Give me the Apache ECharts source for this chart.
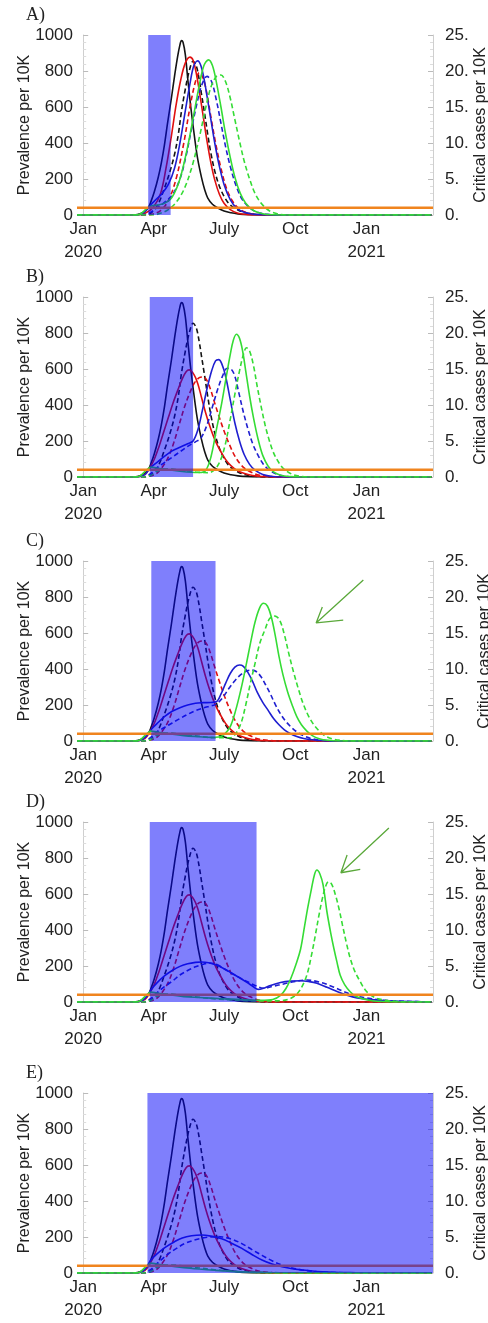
<!DOCTYPE html>
<html>
<head>
<meta charset="utf-8">
<script src="https://cdn.jsdelivr.net/npm/echarts@6/dist/echarts.min.js"></script>
<style>
html, body { margin: 0; padding: 0; background: #fff; }
#chart { width: 488px; height: 1323px; }
</style>
</head>
<body>
<div id="chart"></div>
<script>
// x values are days since 1 Jan 2020; solid = prevalence (left axis), dashed = critical cases (right axis)
var monthTicks = [0, 91, 182, 274, 366];
var monthLabels = ['Jan', 'Apr', 'July', 'Oct', 'Jan'];
var yearLabels = ['2020', '', '', '', '2021'];
var panelNames = ['A)', 'B)', 'C)', 'D)', 'E)'];
var lockStart = [84, 86, 88, 86, 83];
var lockEnd = [113, 142, 171, 224, 452];
var icuCapacity = [[-8, 1], [452, 1]];

// shared curves
var blackSolid = [[-8,0],[60,0],[70,3],[78,15],[84,40],[88,80],[92,130],[97,210],[101,290],[105,390],[109,510],[114,650],[118,770],[122,880],[125,945],[127,969],[129,960],[132,890],[135,761],[139,600],[144,428],[148,310],[153,206],[157,140],[161,94],[167,60],[174,39],[182,22],[191,12],[200,6],[212,2],[225,0],[450,0]];
var blackDashed = [[-8,0],[75,0],[85,0.12],[92,0.75],[98,1.75],[105,3.75],[112,6.0],[118,8.4],[123,11.25],[127,14.4],[132,17.5],[137,20.0],[142,21.35],[146,20.75],[150,18.75],[153,16.7],[157,14.0],[161,11.15],[165,8.6],[170,6.1],[176,4.0],[183,2.4],[190,1.4],[200,0.7],[210,0.3],[222,0.1],[235,0],[450,0]];
var redSolid = [[-8,0],[70,0],[80,15],[86,50],[92,100],[98,170],[104,250],[110,330],[116,410],[122,480],[128,545],[133,585],[137,595],[143,570],[148,520],[153,440],[158,360],[163,290],[168,230],[173,180],[180,125],[187,80],[195,48],[203,28],[213,14],[225,5],[240,1],[255,0],[450,0]];
var redDashed = [[-8,0],[78,0],[86,0.12],[95,0.5],[103,1.5],[110,2.75],[117,4.75],[124,7.25],[131,9.75],[138,11.75],[144,13.1],[150,13.8],[155,13.9],[160,13.4],[165,12.0],[170,10.25],[176,8.25],[183,6.1],[190,4.25],[196,2.9],[203,1.8],[210,1.1],[218,0.62],[228,0.25],[240,0.08],[255,0],[450,0]];

// panel A
var redSolidA = [[-8,0],[70,0],[80,10],[90,40],[100,120],[107,260],[114,440],[120,610],[126,750],[132,845],[138,877],[142,860],[146,790],[150,690],[155,550],[160,410],[165,290],[170,195],[176,115],[182,65],[190,30],[200,10],[212,2],[225,0],[450,0]];
var redDashedA = [[-8,0],[80,0],[90,0.12],[100,0.62],[110,2.0],[120,5.0],[130,10.0],[138,15.0],[145,18.5],[150,19.75],[155,19.0],[160,16.75],[166,13.0],[172,9.5],[178,6.5],[185,3.75],[192,2.1],[200,1.0],[210,0.38],[225,0.08],[240,0],[450,0]];
var blueSolidA = [[-8,0],[70,0],[80,20],[88,60],[95,90],[102,120],[110,170],[118,260],[125,400],[132,580],[138,730],[143,830],[148,856],[152,830],[156,760],[160,660],[165,530],[170,400],[176,270],[182,170],[190,85],[198,40],[208,15],[220,4],[235,0],[450,0]];
var blueDashedA = [[-8,0],[75,0],[85,0.25],[95,1.0],[105,1.75],[115,2.75],[125,5.0],[133,8.25],[140,12.0],[147,15.5],[153,18.0],[160,19.25],[166,18.5],[172,16.0],[178,12.75],[184,9.5],[190,6.75],[197,4.25],[205,2.25],[215,1.0],[225,0.38],[240,0.08],[255,0],[450,0]];
var greenSolidA = [[-8,0],[70,0],[76,12],[82,35],[88,50],[95,55],[105,65],[115,100],[125,200],[135,380],[143,560],[150,720],[156,830],[162,862],[167,830],[172,740],[178,600],[184,450],[190,320],[196,210],[203,120],[210,65],[220,25],[232,7],[245,1],[260,0],[450,0]];
var greenDashedA = [[-8,0],[90,0],[100,0.25],[110,0.75],[120,1.75],[130,3.5],[140,6.5],[150,10.75],[158,14.75],[165,17.75],[172,19.25],[178,19.45],[184,18.5],[190,16.25],[196,13.25],[202,10.25],[208,7.5],[215,5.0],[222,3.0],[230,1.62],[240,0.62],[250,0.2],[262,0],[450,0]];

// panel B
var blueSolidB = [[-8,0],[70,0],[80,15],[86,48],[95,80],[105,115],[115,145],[125,165],[135,185],[142,200],[148,260],[154,370],[160,490],[166,590],[171,645],[175,652],[179,630],[184,560],[190,430],[196,300],[202,200],[208,125],[215,70],[222,38],[232,14],[245,3],[260,0],[450,0]];
var blueDashedB = [[-8,0],[78,0],[86,0.38],[95,1.25],[105,2.0],[115,2.75],[125,3.5],[135,4.25],[145,4.88],[152,5.38],[160,7.25],[167,9.75],[174,12.25],[180,14.0],[186,15.1],[191,15.0],[196,14.0],[201,11.75],[207,9.0],[213,6.62],[219,4.62],[226,3.0],[233,1.75],[240,1.0],[250,0.38],[262,0.1],[275,0],[450,0]];
var greenSolidB = [[-8,0],[70,0],[76,15],[82,40],[88,55],[95,50],[110,40],[125,32],[140,26],[150,25],[158,35],[165,110],[172,260],[179,410],[185,560],[190,680],[194,760],[198,793],[202,770],[206,700],[210,590],[215,450],[220,330],[226,210],[232,120],[239,60],[246,28],[255,10],[268,2],[280,0],[450,0]];
var greenDashedB = [[-8,0],[80,0],[88,0.25],[95,0.75],[105,1.12],[115,1.1],[130,0.9],[145,0.7],[160,0.6],[168,0.85],[176,2.0],[183,4.25],[190,8.0],[196,11.5],[202,14.75],[207,17.0],[211,17.95],[215,17.5],[220,15.5],[225,12.5],[230,9.75],[235,7.25],[240,5.25],[245,3.62],[250,2.5],[256,1.5],[262,0.88],[270,0.38],[280,0.1],[292,0],[450,0]];

// panel C
var blueSolidC = [[-8,0],[70,0],[80,20],[88,65],[95,95],[105,135],[115,165],[125,185],[135,200],[145,210],[155,213],[165,214],[172,218],[178,260],[184,320],[190,375],[196,410],[202,422],[207,415],[213,380],[219,330],[225,270],[232,215],[239,170],[246,125],[253,90],[260,62],[268,40],[276,25],[285,14],[296,7],[310,2],[325,0],[450,0]];
var blueDashedC = [[-8,0],[78,0],[86,0.38],[95,1.25],[105,1.88],[115,2.5],[125,3.12],[135,3.7],[145,4.2],[155,4.58],[165,4.88],[172,5.12],[180,6.0],[188,7.25],[196,8.38],[204,9.25],[212,9.75],[218,9.85],[224,9.62],[230,8.88],[236,7.75],[242,6.5],[248,5.12],[255,3.75],[262,2.7],[270,1.8],[278,1.12],[287,0.62],[296,0.3],[306,0.12],[320,0],[450,0]];
var greenSolidC = [[-8,0],[70,0],[76,15],[82,40],[88,55],[95,50],[110,40],[130,30],[150,24],[165,20],[175,22],[182,35],[190,80],[197,170],[204,290],[210,410],[216,540],[222,660],[228,740],[233,765],[238,750],[243,690],[248,590],[253,470],[258,370],[264,275],[270,200],[276,135],[282,90],[289,55],[296,30],[305,13],[316,4],[330,0],[450,0]];
var greenDashedC = [[-8,0],[80,0],[88,0.25],[95,0.75],[105,1.12],[115,1.1],[130,0.9],[150,0.65],[170,0.45],[190,0.45],[197,1.0],[204,2.5],[210,5.0],[216,8.0],[222,10.75],[228,13.5],[235,15.5],[241,17.0],[248,17.35],[254,16.75],[260,14.75],[266,12.0],[272,9.5],[278,7.25],[284,5.25],[291,3.5],[298,2.25],[305,1.38],[312,0.75],[322,0.3],[335,0.08],[350,0],[450,0]];
var arrowC = [[362,894],[301,656],[309,744],[301,656],[336,672]];

// panel D
var blueSolidD = [[-8,0],[70,0],[80,20],[88,70],[95,105],[105,145],[115,175],[125,198],[135,212],[145,220],[153,222],[162,218],[172,205],[182,185],[192,160],[202,135],[212,108],[220,85],[226,70],[232,75],[242,92],[255,108],[268,116],[281,118],[292,113],[302,104],[315,82],[328,58],[341,37],[354,22],[370,13],[389,8],[410,4],[430,2],[450,0]];
var blueDashedD = [[-8,0],[78,0],[86,0.38],[95,1.25],[105,2.12],[115,2.88],[125,3.75],[135,4.38],[145,4.88],[155,5.25],[163,5.42],[172,5.25],[182,4.62],[192,4.0],[202,3.38],[213,2.78],[222,2.3],[233,1.9],[246,2.2],[259,2.5],[272,2.82],[289,3.05],[300,2.9],[311,2.6],[324,2.05],[337,1.45],[350,0.9],[367,0.55],[382,0.3],[397,0.18],[420,0.08],[450,0]];
var greenSolidD = [[-8,0],[70,0],[76,15],[82,40],[88,55],[95,50],[110,40],[130,30],[150,25],[180,18],[210,12],[230,10],[245,14],[255,37],[262,75],[268,128],[275,210],[281,296],[286,420],[290,520],[295,630],[299,710],[302,733],[306,710],[310,650],[315,500],[320,380],[324,296],[328,220],[332,150],[338,95],[345,57],[352,32],[363,16],[375,6],[390,2],[405,0],[450,0]];
var greenDashedD = [[-8,0],[80,0],[88,0.25],[95,0.75],[105,1.12],[115,1.1],[130,0.9],[150,0.65],[175,0.4],[200,0.25],[230,0.15],[250,0.15],[265,0.38],[275,1.0],[282,2.0],[289,3.75],[295,6.5],[300,9.3],[305,12.25],[309,14.35],[313,16.0],[317,16.7],[321,16.38],[326,14.85],[331,12.75],[335,10.7],[340,8.25],[345,6.08],[351,4.25],[358,2.82],[364,1.75],[371,0.98],[380,0.5],[389,0.28],[400,0.12],[415,0],[450,0]];
var arrowD = [[395,967],[333,718],[341,817],[333,718],[358,737]];

// panel E
var blueSolidE = [[-8,0],[70,0],[80,20],[87,70],[95,105],[105,140],[118,174],[128,195],[140,207],[153,211],[165,205],[179,190],[192,165],[205,137],[218,103],[231,72],[244,50],[257,35],[270,24],[283,17],[296,11],[309,7],[325,4],[345,2],[370,0],[450,0]];
var blueDashedE = [[-8,0],[78,0],[86,0.38],[95,1.25],[108,2.5],[120,3.38],[131,4.08],[145,4.62],[158,4.92],[170,5.05],[180,5.0],[192,4.7],[205,4.08],[218,3.25],[231,2.45],[244,1.7],[257,1.1],[270,0.7],[283,0.42],[296,0.25],[310,0.12],[330,0.05],[350,0],[450,0]];
var greenSolidE = [[-8,0],[70,0],[76,15],[82,40],[88,55],[95,50],[110,40],[130,30],[150,22],[170,15],[190,9],[210,5],[235,2],[260,0],[450,0]];
var greenDashedE = [[-8,0],[80,0],[88,0.25],[95,0.75],[105,1.12],[115,1.12],[130,0.95],[150,0.7],[170,0.45],[190,0.28],[210,0.15],[235,0.08],[260,0.02],[280,0],[450,0]];

var panels = [
    {red: redSolidA, redD: redDashedA, blue: blueSolidA, blueD: blueDashedA, green: greenSolidA, greenD: greenDashedA, arrow: null},
    {red: redSolid, redD: redDashed, blue: blueSolidB, blueD: blueDashedB, green: greenSolidB, greenD: greenDashedB, arrow: null},
    {red: redSolid, redD: redDashed, blue: blueSolidC, blueD: blueDashedC, green: greenSolidC, greenD: greenDashedC, arrow: arrowC},
    {red: redSolid, redD: redDashed, blue: blueSolidD, blueD: blueDashedD, green: greenSolidD, greenD: greenDashedD, arrow: arrowD},
    {red: redSolid, redD: redDashed, blue: blueSolidE, blueD: blueDashedE, green: greenSolidE, greenD: greenDashedE, arrow: null}
];

var panelTops = [35, 297, 561, 822, 1093];
var rightNameGap = [40, 40, 44, 40, 40];
var FONT = "'Liberation Sans', Arial, sans-serif";

var grids = [], xAxes = [], yAxes = [], series = [], titles = [];

function lineSeries(i, data, color, dashed) {
    return {
        type: 'line',
        xAxisIndex: i,
        yAxisIndex: dashed ? 2 * i + 1 : 2 * i,
        data: data,
        showSymbol: false,
        smooth: 0.35,
        silent: true,
        lineStyle: {color: color, width: 1.6, type: dashed ? [5, 3] : 'solid'}
    };
}

panels.forEach(function (p, i) {
    var top = panelTops[i];
    grids.push({left: 77, right: 55, top: top, height: 180, outerBoundsMode: 'none', containLabel: false});
    titles.push({
        text: panelNames[i], left: 26, top: top - 29, padding: 0,
        textStyle: {fontFamily: "'Liberation Serif', 'Times New Roman', serif", fontSize: 18, fontWeight: 'normal', color: '#222'}
    });
    xAxes.push({
        type: 'value', gridIndex: i, min: -8, max: 452,
        axisLine: {show: false},
        axisTick: {show: false},
        splitLine: {show: false},
        axisLabel: {
            customValues: monthTicks,
            margin: 3,
            fontFamily: FONT, fontSize: 17, color: '#222', lineHeight: 23,
            formatter: function (v) {
                var k = monthTicks.indexOf(v);
                return monthLabels[k] + (yearLabels[k] ? '\n' + yearLabels[k] : '');
            }
        }
    });
    yAxes.push({
        type: 'value', gridIndex: i, position: 'left', min: 0, max: 1000, interval: 200,
        name: 'Prevalence per 10K', nameLocation: 'middle', nameGap: 44, nameRotate: 90,
        nameMoveOverlap: false,
        nameTextStyle: {fontFamily: FONT, fontSize: 16, color: '#222'},
        axisLine: {show: true, lineStyle: {color: '#cfcfcf'}},
        axisTick: {show: true, inside: true, length: 5, lineStyle: {color: '#bbb'}},
        minorTick: {show: true, splitNumber: 5, length: 3, lineStyle: {color: '#ddd'}},
        splitLine: {show: false},
        axisLabel: {fontFamily: FONT, fontSize: 17, color: '#222', margin: 4, formatter: function (v) { return String(v); }}
    }, {
        type: 'value', gridIndex: i, position: 'right', min: 0, max: 25, interval: 5,
        name: 'Critical cases per 10K', nameLocation: 'middle', nameGap: rightNameGap[i], nameRotate: 90,
        nameMoveOverlap: false,
        nameTextStyle: {fontFamily: FONT, fontSize: 16, color: '#222'},
        axisLine: {show: true, lineStyle: {color: '#cfcfcf'}},
        axisTick: {show: true, inside: true, length: 5, lineStyle: {color: '#bbb'}},
        minorTick: {show: true, splitNumber: 5, length: 3, lineStyle: {color: '#ddd'}},
        splitLine: {show: false},
        axisLabel: {fontFamily: FONT, fontSize: 17, color: '#222', margin: 12, formatter: function (v) { return v + '.'; }}
    });

    series.push(
        lineSeries(i, blackSolid, '#141414', false),
        lineSeries(i, blackDashed, '#141414', true),
        lineSeries(i, p.red, '#e01010', false),
        lineSeries(i, p.redD, '#e01010', true),
        lineSeries(i, p.blue, '#1f1fd0', false),
        lineSeries(i, p.blueD, '#1f1fd0', true),
        lineSeries(i, p.green, '#35dc35', false),
        lineSeries(i, p.greenD, '#35dc35', true)
    );
    // ICU capacity line
    series.push({
        type: 'line', xAxisIndex: i, yAxisIndex: 2 * i + 1, data: icuCapacity,
        showSymbol: false, silent: true, z: 3,
        lineStyle: {color: '#f0841e', width: 2.5}
    });
    // lockdown period, drawn translucent over the curves
    series.push({
        type: 'custom', xAxisIndex: i, yAxisIndex: 2 * i, z: 10, silent: true, clip: true,
        data: [[lockStart[i], lockEnd[i], 1000]],
        encode: {x: [0, 1], y: 2},
        renderItem: function (params, api) {
            var a = api.coord([api.value(0), api.value(2)]);
            var b = api.coord([api.value(1), 0]);
            return {
                type: 'rect',
                shape: {x: a[0], y: a[1], width: b[0] - a[0], height: b[1] - a[1]},
                style: {fill: 'rgba(0,0,250,0.5)'}
            };
        }
    });
    if (p.arrow) {
        series.push({
            type: 'line', xAxisIndex: i, yAxisIndex: 2 * i, data: p.arrow,
            showSymbol: false, silent: true, z: 11,
            lineStyle: {color: '#5aa83a', width: 1.3}
        });
    }
});

var chart = echarts.init(document.getElementById('chart'));
chart.setOption({
    animation: false,
    backgroundColor: '#fff',
    title: titles,
    grid: grids,
    xAxis: xAxes,
    yAxis: yAxes,
    series: series
});
</script>
</body>
</html>
